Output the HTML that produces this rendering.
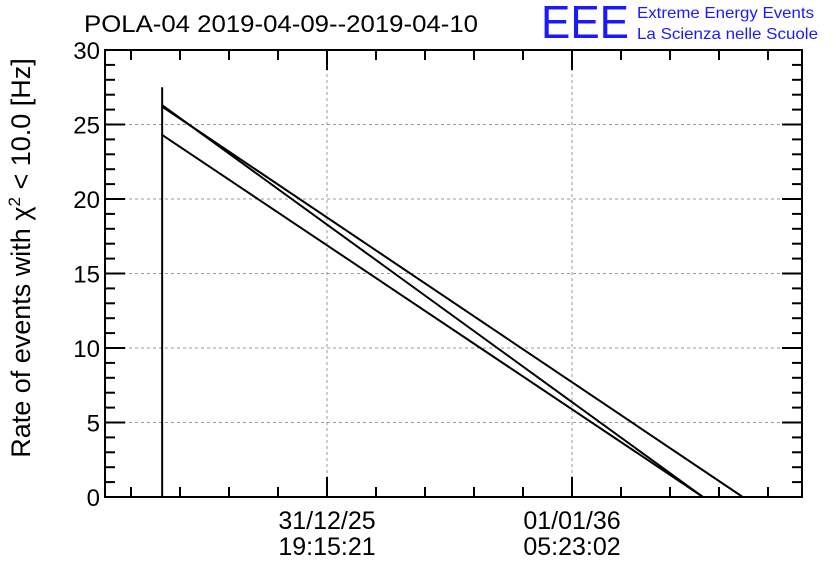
<!DOCTYPE html>
<html><head><meta charset="utf-8"><style>
body{margin:0;background:#fff;}
svg{display:block;font-family:"Liberation Sans",sans-serif;}
</style></head><body>
<svg id="chart" width="836" height="572" viewBox="0 0 836 572">
<rect width="836" height="572" fill="#fff"/>
<text x="84" y="32" font-size="24" textLength="394" lengthAdjust="spacingAndGlyphs">POLA-04 2019-04-09--2019-04-10</text>
<g>
<text x="541" y="38" font-size="46" fill="#1a1aff" textLength="88" lengthAdjust="spacingAndGlyphs">EEE</text>
<text x="637" y="18" font-size="16" fill="#1a1aff" textLength="177" lengthAdjust="spacingAndGlyphs">Extreme Energy Events</text>
<text x="637" y="39" font-size="16" fill="#1a1aff" textLength="181" lengthAdjust="spacingAndGlyphs">La Scienza nelle Scuole</text>
</g>
<text transform="translate(30,258) rotate(-90)" text-anchor="middle" font-size="27">Rate of events with χ<tspan dy="-10" font-size="17">2</tspan><tspan dy="10"> &lt; 10.0 [Hz]</tspan></text>
<g id="grid"></g><g id="ticks"></g><g id="series"></g>
<rect x="105" y="50" width="697" height="447" fill="none" stroke="#000" stroke-width="2"/>
</svg>
<script>
const yTicks=[0,5,10,15,20,25,30];
const xTickPos=[31.85,67.0];
const xTickLabels=[["31/12/25","19:15:21"],["01/01/36","05:23:02"]];
const spikeX=[8.2,8.2];
const spikeY=[0,27.5];
const lineAx=[8.2,85.8], lineAy=[26.3,0];
const lineBx=[8.2,91.5], lineBy=[26.2,0];
const lineCx=[8.2,85.8], lineCy=[24.3,0];
const L=105,R=802,T=50,B=497;
const X=v=>L+v/100*(R-L), Y=v=>B-v/30*(B-T);
const NS="http://www.w3.org/2000/svg";
function mk(t,a,p){const e=document.createElementNS(NS,t);for(const k in a)e.setAttribute(k,a[k]);p.appendChild(e);return e;}
const g=document.getElementById('grid'),tk=document.getElementById('ticks'),s=document.getElementById('series');
yTicks.forEach((v,i)=>{
 if(v>0&&v<30){const l=mk('line',{x1:L,x2:R,y1:Y(v),y2:Y(v),stroke:'#999','stroke-dasharray':'3,3'},g);
 
 }
 [ [L,L+20],[R,R-20] ].forEach(p=>mk('line',{x1:p[0],x2:p[1],y1:Y(v),y2:Y(v),stroke:'#000','stroke-width':2},tk));
 if(i<yTicks.length-1)for(let m=1;m<5;m++){const y=Y(v+m);[[L,L+10],[R,R-10]].forEach(p=>mk('line',{x1:p[0],x2:p[1],y1:y,y2:y,stroke:'#000','stroke-width':2},tk));}
 const t=mk('text',{x:L-5,y:Y(v)+9,'text-anchor':'end','font-size':24},tk);t.textContent=v;
 
 
});
const step=(xTickPos[1]-xTickPos[0])/5;
for(let v=xTickPos[0]-step*5;v<100;v+=step){if(v<0)continue;const x=X(v);
 const major=xTickPos.some(p=>Math.abs(p-v)<0.01),len=major?20:10;
 mk('line',{x1:x,x2:x,y1:B,y2:B-len,stroke:'#000','stroke-width':2},tk);
 mk('line',{x1:x,x2:x,y1:T,y2:T+len,stroke:'#000','stroke-width':2},tk);}
xTickPos.forEach((v,i)=>{
 const l=mk('line',{x1:X(v),x2:X(v),y1:T,y2:B,stroke:'#999','stroke-dasharray':'3,3'},g);
 
 
 xTickLabels[i].forEach((s2,j)=>{const t=mk('text',{x:X(v),y:529+j*26,'text-anchor':'middle','font-size':25},tk);t.textContent=s2;
 
 });
});
[[spikeX,spikeY,'rate-spike'],[lineAx,lineAy,'rate-line-a'],[lineBx,lineBy,'rate-line-b'],[lineCx,lineCy,'rate-line-c']].forEach(d=>{
 const p=mk('polyline',{points:d[0].map((x,i)=>X(x)+','+Y(d[1][i])).join(' '),fill:'none',stroke:'#000','stroke-width':2},s);
 
 
});
</script>
</body></html>
